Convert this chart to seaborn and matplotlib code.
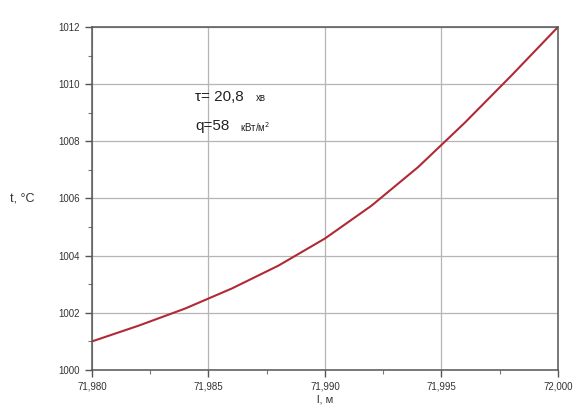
import numpy as np
import pandas as pd
import matplotlib.pyplot as plt
import matplotlib.ticker as mticker
import seaborn as sns

sns.set_theme(style="ticks")
plt.rcParams['font.family'] = ['Liberation Sans', 'DejaVu Sans']

# dane z wykresu
dlugosc = [71.980, 71.982, 71.984, 71.986, 71.988, 71.990,
           71.992, 71.994, 71.996, 71.998, 72.000]
temperatura = [1001.0, 1001.55, 1002.15, 1002.85, 1003.65, 1004.6,
               1005.75, 1007.1, 1008.65, 1010.3, 1012.0]
x_ticks = [71.980, 71.985, 71.990, 71.995, 72.000]
x_labels = ["71,980", "71,985", "71,990", "71,995", "72,000"]
y_ticks = [1000, 1002, 1004, 1006, 1008, 1010, 1012]

df = pd.DataFrame({'l': dlugosc, 't': temperatura})

fig = plt.figure(figsize=(5.77, 4.11), dpi=100)
ax = fig.add_axes([0.1594, 0.0998, 0.8076, 0.8345])

sns.lineplot(data=df, x='l', y='t', ax=ax, color='#b02a35', linewidth=1.5)

ax.set_xlim(71.980, 72.000)
ax.set_ylim(1000, 1012)
ax.set_xticks(x_ticks)
ax.set_xticklabels(x_labels)
ax.set_yticks(y_ticks)
ax.xaxis.set_minor_locator(mticker.AutoMinorLocator(2))
ax.yaxis.set_minor_locator(mticker.AutoMinorLocator(2))
ax.tick_params(which='major', direction='out', length=5, width=1,
               colors='#555555', labelsize=7, labelcolor='#333333')
ax.tick_params(which='minor', direction='out', length=3, width=0.8,
               colors='#777777')
ax.grid(True, which='major', color='#b5b5b5', linewidth=0.9)

for s in ax.spines.values():
    s.set_color('#555555')
    s.set_linewidth(1.1)

ax.set_xlabel("l, м", fontsize=8, color='#333333', labelpad=2)
ax.set_ylabel("")
ax.text(-0.175, 0.5, "t, °C", transform=ax.transAxes, fontsize=9,
        color='#333333', va='center', ha='left')

# opis
ax.text(0.221, 0.795, "τ= 20,8", transform=ax.transAxes, fontsize=11,
        color='#222222', va='center')
ax.text(0.352, 0.792, "хв", transform=ax.transAxes, fontsize=7,
        color='#222222', va='center')
ax.text(0.221, 0.71, "q=58", transform=ax.transAxes, fontsize=11,
        color='#222222', va='center')
ax.text(0.318, 0.707, "кВт/м$^{2}$", transform=ax.transAxes, fontsize=7,
        color='#222222', va='center')

plt.savefig("out.png", dpi=100)
